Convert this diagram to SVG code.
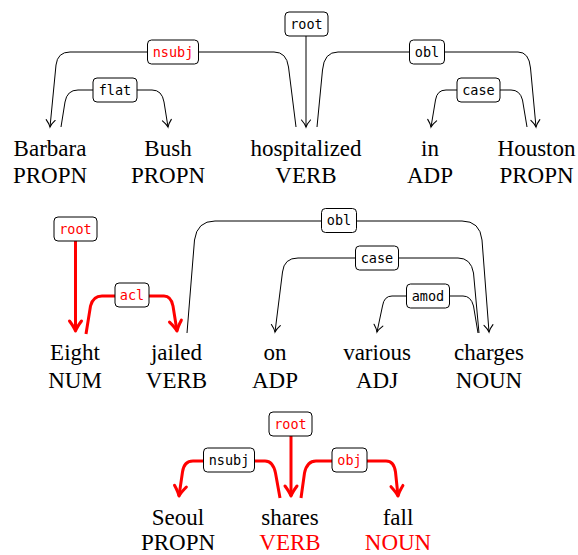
<svg xmlns="http://www.w3.org/2000/svg" width="578" height="555" viewBox="0 0 578 555">
<style>
.w{font-family:"Liberation Serif","Times New Roman",serif;font-size:23px;text-anchor:middle;fill:#000}
.r{fill:#ff0000}
.lb rect{fill:#fff;stroke:#000;stroke-width:1}
.lb text{font-family:"DejaVu Sans Mono",monospace;font-size:13.5px;text-anchor:middle;fill:#000}
.lb text.r{fill:#ff0000}
.e{fill:none;stroke:#000;stroke-width:1}
.er{fill:none;stroke:#ff0000;stroke-width:3}
</style>
<defs>
<marker id="a" viewBox="-10 -6 12 12" refX="0" refY="0" markerWidth="12" markerHeight="12" markerUnits="userSpaceOnUse" orient="auto" overflow="visible">
<path d="M-7,-4.5 Q-3,-1 0,0 Q-3,1 -7,4.5" fill="none" stroke="#000" stroke-width="1.1" stroke-linecap="round"/>
</marker>
<marker id="ar" viewBox="-14 -8 16 16" refX="0" refY="0" markerWidth="16" markerHeight="16" markerUnits="userSpaceOnUse" orient="auto" overflow="visible">
<path d="M-10,-6 Q-4,-1.5 0,0 Q-4,1.5 -10,6" fill="none" stroke="#ff0000" stroke-width="3" stroke-linecap="round" stroke-linejoin="round"/>
</marker>
</defs>

<g id="connectors">
<path class="e" d="M306,36 L306,127" marker-end="url(#a)"/>
<path class="e" d="M296,127 L288.5,67 Q286.5,52 274,52 L70,52 Q57.5,52 56,65 L50,127" marker-end="url(#a)"/>
<path class="e" d="M61,127 L65,102 Q67,90 78,90 L152,90 Q162,90 164,102 L168,127" marker-end="url(#a)"/>
<path class="e" d="M317,127 L322.5,70 Q324,52 338,52 L518,52 Q529,52 530.5,68 L536,127" marker-end="url(#a)"/>
<path class="e" d="M527,127 L522.5,100 Q520,90 511,90 L446,90 Q437,90 435.5,100 L431,127" marker-end="url(#a)"/>
<path class="er" d="M75.5,241 L75.5,331" marker-end="url(#ar)"/>
<path class="er" d="M86,334 L90.5,306 Q93,296 102,296 L164,296 Q171,296 173,306 L177,331" marker-end="url(#ar)"/>
<path class="e" d="M187,333 L194.5,240 Q197,221 215,221 L462,221 Q480,221 482,240 L489,332" marker-end="url(#a)"/>
<path class="e" d="M479,333 L473.5,273 Q471,258 458,258 L298,258 Q284,258 282.5,272 L275,332" marker-end="url(#a)"/>
<path class="e" d="M478,333 L473.5,306 Q471,296 463,296 L392,296 Q384,296 382.5,306 L377,332" marker-end="url(#a)"/>
<path class="er" d="M291,436 L291,496" marker-end="url(#ar)"/>
<path class="er" d="M280,498 L275.5,473 Q273,461 265,461 L193,461 Q184,461 182.5,472 L179,496" marker-end="url(#ar)"/>
<path class="er" d="M301,498 L304.5,473 Q307,461 316,461 L386,461 Q394,461 395.5,472 L398,496" marker-end="url(#ar)"/>
</g>

<g id="labels" class="lb">
<g id="l1-root"><rect x="285" y="12" width="43" height="24" rx="4"/><text x="306.5" y="28.5">root</text></g>
<g id="l1-nsubj"><rect x="147.5" y="40" width="51" height="24" rx="4"/><text class="r" x="173" y="56.5">nsubj</text></g>
<g id="l1-flat"><rect x="93" y="78" width="44" height="24" rx="4"/><text x="115" y="94.5">flat</text></g>
<g id="l1-obl"><rect x="409.5" y="40" width="35" height="24" rx="4"/><text x="427" y="56.5">obl</text></g>
<g id="l1-case"><rect x="457" y="78" width="43" height="24" rx="4"/><text x="478.5" y="94.5">case</text></g>
<g id="l2-root"><rect x="54" y="217" width="43" height="24" rx="4"/><text class="r" x="75.5" y="233.5">root</text></g>
<g id="l2-acl"><rect x="115" y="283" width="34" height="24" rx="4"/><text class="r" x="132" y="299.5">acl</text></g>
<g id="l2-obl"><rect x="321.5" y="208.5" width="35" height="24" rx="4"/><text x="339" y="225">obl</text></g>
<g id="l2-case"><rect x="355.5" y="246" width="43" height="24" rx="4"/><text x="377" y="262.5">case</text></g>
<g id="l2-amod"><rect x="406.5" y="284" width="43" height="24" rx="4"/><text x="428" y="300.5">amod</text></g>
<g id="l3-root"><rect x="269" y="412" width="43" height="24" rx="4"/><text class="r" x="290.5" y="428.5">root</text></g>
<g id="l3-nsubj"><rect x="203.5" y="448" width="51" height="24" rx="4"/><text x="229" y="464.5">nsubj</text></g>
<g id="l3-obj"><rect x="332" y="448" width="35" height="24" rx="4"/><text class="r" x="349.5" y="464.5">obj</text></g>
</g>

<g id="n-barbara"><text class="w" x="50" y="155.5">Barbara</text><text class="w" x="50" y="183">PROPN</text></g>
<g id="n-bush"><text class="w" x="168" y="155.5">Bush</text><text class="w" x="168" y="183">PROPN</text></g>
<g id="n-hospitalized"><text class="w" x="306" y="155.5">hospitalized</text><text class="w" x="306" y="183">VERB</text></g>
<g id="n-in"><text class="w" x="430" y="155.5">in</text><text class="w" x="430" y="183">ADP</text></g>
<g id="n-houston"><text class="w" x="536.5" y="155.5">Houston</text><text class="w" x="536.5" y="183">PROPN</text></g>
<g id="n-eight"><text class="w" x="75" y="360">Eight</text><text class="w" x="75" y="388">NUM</text></g>
<g id="n-jailed"><text class="w" x="176.5" y="360">jailed</text><text class="w" x="176.5" y="388">VERB</text></g>
<g id="n-on"><text class="w" x="275" y="360">on</text><text class="w" x="275" y="388">ADP</text></g>
<g id="n-various"><text class="w" x="377" y="360">various</text><text class="w" x="377" y="388">ADJ</text></g>
<g id="n-charges"><text class="w" x="489" y="360">charges</text><text class="w" x="489" y="388">NOUN</text></g>
<g id="n-seoul"><text class="w" x="178" y="524.5">Seoul</text><text class="w" x="178" y="549.5">PROPN</text></g>
<g id="n-shares"><text class="w" x="290" y="524.5">shares</text><text class="w r" x="290" y="549.5">VERB</text></g>
<g id="n-fall"><text class="w" x="398" y="524.5">fall</text><text class="w r" x="398" y="549.5">NOUN</text></g>
</svg>
